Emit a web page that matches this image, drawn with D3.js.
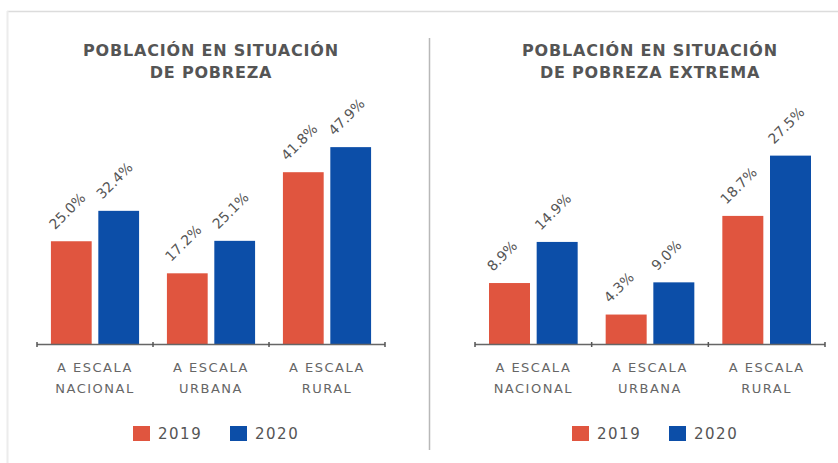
<!DOCTYPE html>
<html>
<head>
<meta charset="utf-8">
<script src="https://cdn.jsdelivr.net/npm/d3@7/dist/d3.min.js"></script>
<style>
  html, body { margin: 0; padding: 0; background: #ffffff; }
  svg { display: block; }
</style>
</head>
<body>
<script>
// ---------- DATA ----------
const categories = ["A ESCALA NACIONAL", "A ESCALA URBANA", "A ESCALA RURAL"];
const seriesNames = ["2019", "2020"];
const pobreza2019 = [25.0, 17.2, 41.8];
const pobreza2020 = [32.4, 25.1, 47.9];
const extrema2019 = [8.9, 4.3, 18.7];
const extrema2020 = [14.9, 9.0, 27.5];
const titlePobreza = ["POBLACIÓN EN SITUACIÓN", "DE POBREZA"];
const titleExtrema = ["POBLACIÓN EN SITUACIÓN", "DE POBREZA EXTREMA"];

// ---------- STYLE ----------
const W = 838, H = 463;
const colors = {"2019": "#e0553f", "2020": "#0c4ea8"};
const fontFam = "'DejaVu Sans', Verdana, sans-serif";

const svg = d3.select("body").append("svg").attr("width", W).attr("height", H);
svg.append("rect").attr("width", W).attr("height", H).attr("fill", "#fff");

// frame lines
svg.append("line").attr("x1", 7).attr("x2", W).attr("y1", 11.5).attr("y2", 11.5)
  .attr("stroke", "#dcdcdc").attr("stroke-width", 1.5);
svg.append("line").attr("x1", 7.5).attr("x2", 7.5).attr("y1", 11).attr("y2", H)
  .attr("stroke", "#ececec").attr("stroke-width", 2);
svg.append("line").attr("x1", 429.5).attr("x2", 429.5).attr("y1", 38).attr("y2", 450)
  .attr("stroke", "#b8b8b8").attr("stroke-width", 1.5);

const panels = [
  {title: titlePobreza, v2019: pobreza2019, v2020: pobreza2020, max: 50, x0: 37, x1: 385},
  {title: titleExtrema, v2019: extrema2019, v2020: extrema2020, max: 30, x0: 475, x1: 825}
];

const baseY = 344, topY = 138.5;
const fmt = v => d3.format(".1f")(v) + "%";

panels.forEach(p => {
  const g = svg.append("g");
  const cx = (p.x0 + p.x1) / 2;
  const xBand = d3.scaleBand().domain(categories).range([p.x0, p.x1])
    .paddingInner(0.24).paddingOuter(0.12);
  const xSub = d3.scaleBand().domain(seriesNames).range([0, xBand.bandwidth()])
    .paddingInner(0.14).paddingOuter(0);
  const y = d3.scaleLinear().domain([0, p.max]).range([baseY, topY]);

  // title
  g.selectAll("text.title").data(p.title).enter().append("text")
    .attr("class", "title")
    .attr("x", cx).attr("y", (d, i) => 56 + i * 22)
    .attr("text-anchor", "middle")
    .attr("font-family", fontFam).attr("font-weight", "bold")
    .attr("font-size", 16).attr("letter-spacing", 0.8)
    .attr("fill", "#555").text(d => d);

  const rows = categories.map((c, i) => ({cat: c, vals: [
    {s: "2019", v: p.v2019[i]}, {s: "2020", v: p.v2020[i]}]}));

  const groups = g.selectAll("g.cat").data(rows).enter().append("g")
    .attr("transform", d => `translate(${xBand(d.cat)},0)`);

  groups.selectAll("rect").data(d => d.vals).enter().append("rect")
    .attr("x", d => xSub(d.s)).attr("width", xSub.bandwidth())
    .attr("y", d => y(d.v)).attr("height", d => baseY - y(d.v))
    .attr("fill", d => colors[d.s]);

  groups.selectAll("text.val").data(d => d.vals).enter().append("text")
    .attr("class", "val")
    .attr("transform", d => `translate(${xSub(d.s) + 4},${y(d.v) - 11}) rotate(-45)`)
    .attr("font-family", fontFam).attr("font-size", 14)
    .attr("fill", "#555").text(d => fmt(d.v));

  // axis baseline
  g.append("line").attr("x1", p.x0).attr("x2", p.x1).attr("y1", baseY + 0.5).attr("y2", baseY + 0.5)
    .attr("stroke", "#666").attr("stroke-width", 1.5);
  const bounds = [p.x0].concat(categories.map(c => xBand(c) + xBand.bandwidth() + xBand.step() * xBand.paddingInner() / 2));
  bounds[bounds.length - 1] = p.x1;
  g.selectAll("line.tick").data(bounds).enter().append("line")
    .attr("x1", d => d).attr("x2", d => d).attr("y1", baseY - 2).attr("y2", baseY + 3)
    .attr("stroke", "#555").attr("stroke-width", 1.5);

  // category labels
  const cl = g.selectAll("text.cat").data(categories).enter().append("text")
    .attr("class", "cat")
    .attr("text-anchor", "middle")
    .attr("font-family", fontFam).attr("font-size", 13).attr("letter-spacing", 1.5)
    .attr("fill", "#666");
  cl.append("tspan").attr("x", d => xBand(d) + xBand.bandwidth() / 2).attr("y", 372)
    .text(d => d.split(" ").slice(0, 2).join(" "));
  cl.append("tspan").attr("x", d => xBand(d) + xBand.bandwidth() / 2).attr("y", 393)
    .text(d => d.split(" ").slice(2).join(" "));

  // legend
  const lg = g.selectAll("g.leg").data(seriesNames).enter().append("g")
    .attr("transform", (d, i) => `translate(${cx - 78 + i * 97},426)`);
  lg.append("rect").attr("width", 17).attr("height", 15).attr("fill", d => colors[d]);
  lg.append("text").attr("x", 25).attr("y", 13)
    .attr("font-family", fontFam).attr("font-size", 15).attr("letter-spacing", 1.5)
    .attr("fill", "#555").text(d => d);
});
</script>
</body>
</html>
